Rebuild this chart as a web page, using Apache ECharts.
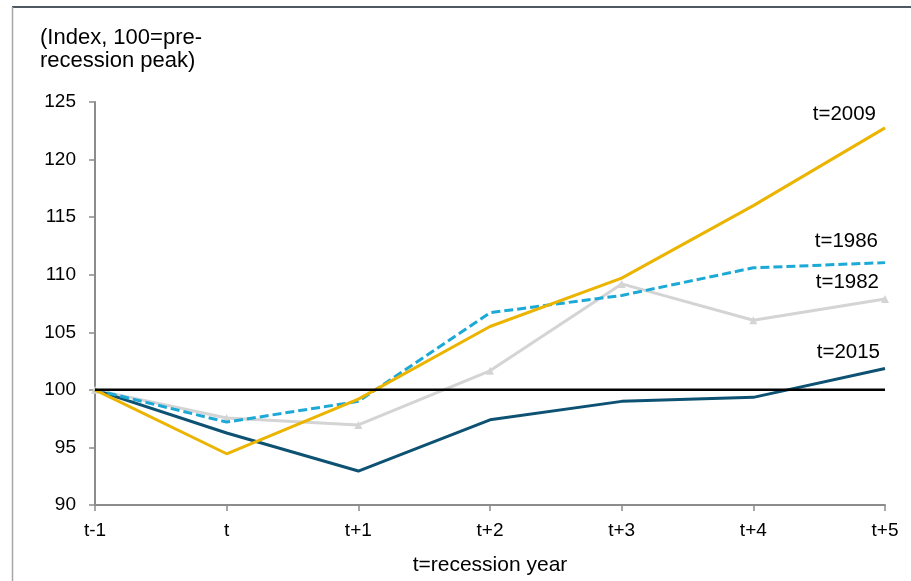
<!DOCTYPE html>
<html>
<head>
<meta charset="utf-8">
<script src="https://cdn.jsdelivr.net/npm/echarts@6/dist/echarts.min.js"></script>
<style>
  html, body { margin: 0; padding: 0; background: #fff; }
  #chart { width: 911px; height: 581px; }
</style>
</head>
<body>
<div id="chart"></div>
<script>
// Recession paths, indexed to the pre-recession peak (=100)
const categories = ['t-1', 't', 't+1', 't+2', 't+3', 't+4', 't+5'];
const path2009 = [100, 94.45, 99.2, 105.5, 109.7, 116.0, 122.75];
const path1986 = [100, 97.2, 99.0, 106.7, 108.2, 110.6, 111.05];
const path1982 = [100, 97.55, 96.95, 101.65, 109.2, 106.05, 107.9];
const path2015 = [100, 96.25, 92.95, 97.4, 99.0, 99.35, 101.85];
const baseline = [100, 100, 100, 100, 100, 100, 100];
const yTicks = { min: 90, max: 125, step: 5 };

const FONT = 'Liberation Sans, Arial, sans-serif';
const chart = echarts.init(document.getElementById('chart'), null, { renderer: 'canvas' });

function endLabel(text, dx, dy) {
  return {
    show: true,
    formatter: text,
    distance: 0,
    align: 'right',
    verticalAlign: 'middle',
    offset: [dx, dy],
    color: '#000',
    fontFamily: FONT,
    fontSize: 20.5
  };
}

chart.setOption({
  animation: false,
  backgroundColor: '#fff',
  title: {
    text: '(Index, 100=pre-\nrecession peak)',
    left: 35,
    top: 21,
    textStyle: { fontFamily: FONT, fontSize: 22, fontWeight: 'normal', color: '#000', lineHeight: 23 }
  },
  graphic: [
    { type: 'line', shape: { x1: 12, y1: 7, x2: 911, y2: 7 }, style: { stroke: '#4f5961', lineWidth: 2 } },
    { type: 'line', shape: { x1: 12.5, y1: 7, x2: 12.5, y2: 581 }, style: { stroke: '#a6a6a6', lineWidth: 1.5 } }
  ],
  grid: { left: 95, right: 26, top: 102, bottom: 72, containLabel: false },
  xAxis: {
    type: 'category',
    data: categories,
    boundaryGap: false,
    name: 't=recession year',
    nameLocation: 'middle',
    nameGap: 50,
    nameTextStyle: { fontFamily: FONT, fontSize: 21, color: '#000' },
    axisLine: { lineStyle: { color: '#8c8c8c', width: 2 } },
    axisTick: { show: true, length: 6, lineStyle: { color: '#8c8c8c', width: 1.5 } },
    axisLabel: { margin: 16, fontFamily: FONT, fontSize: 19, color: '#000' },
    splitLine: { show: false }
  },
  yAxis: {
    type: 'value',
    min: yTicks.min,
    max: yTicks.max,
    interval: yTicks.step,
    axisLine: { show: true, lineStyle: { color: '#8c8c8c', width: 2 } },
    axisTick: { show: true, length: 6, lineStyle: { color: '#8c8c8c', width: 1.5 } },
    axisLabel: { margin: 19, fontFamily: FONT, fontSize: 19, color: '#000' },
    splitLine: { show: false }
  },
  series: [
    {
      name: 't=1982', type: 'line', data: path1982,
      symbol: 'triangle', symbolSize: 8, showSymbol: true,
      itemStyle: { color: '#d4d4d4' },
      lineStyle: { color: '#d4d4d4', width: 3 },
      endLabel: endLabel('t=1982', -6, -17),
      z: 2
    },
    {
      name: 't=2015', type: 'line', data: path2015, symbol: 'none',
      lineStyle: { color: '#0d5272', width: 3 },
      endLabel: endLabel('t=2015', -5, -16),
      z: 3
    },
    {
      name: 't=1986', type: 'line', data: path1986, symbol: 'none',
      lineStyle: { color: '#1ca9d6', width: 3, type: [9, 4] },
      endLabel: endLabel('t=1986', -7, -21),
      z: 4
    },
    {
      name: 't=2009', type: 'line', data: path2009, symbol: 'none',
      lineStyle: { color: '#ebb400', width: 3 },
      endLabel: endLabel('t=2009', -9, -14),
      z: 5
    },
    {
      name: 'baseline', type: 'line', data: baseline, symbol: 'none',
      lineStyle: { color: '#000', width: 2.5 },
      silent: true,
      z: 6
    }
  ]
});
</script>
</body>
</html>
